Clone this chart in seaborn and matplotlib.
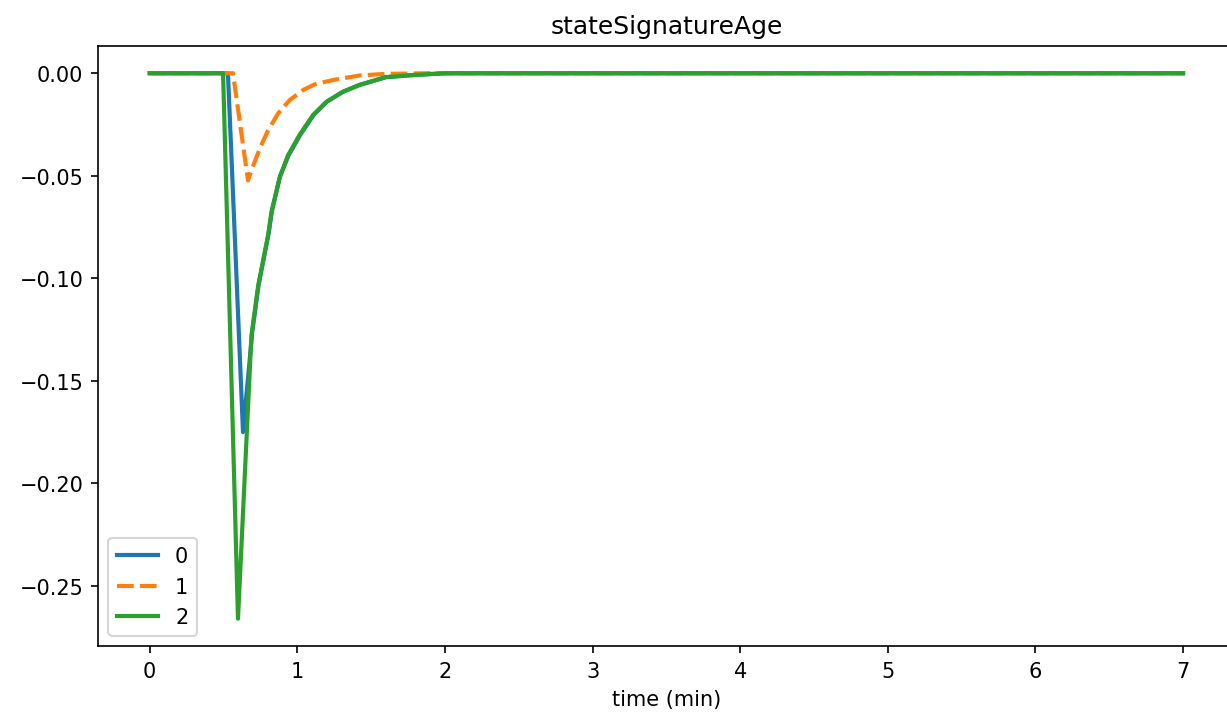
import pandas as pd
import matplotlib
matplotlib.use('Agg')
import matplotlib.pyplot as plt
import seaborn as sns

# series values (time in minutes)
t0 = [0.0, 0.53, 0.632, 0.695, 0.738, 0.806, 0.828, 0.884, 0.941, 1.02, 1.11, 1.20, 1.31, 1.42, 1.60, 1.78, 2.0, 7.0]
v0 = [0.0, 0.0, -0.175, -0.126, -0.103, -0.078, -0.067, -0.050, -0.040, -0.030, -0.0204, -0.0139, -0.009, -0.0057, -0.0019, -0.0009, 0.0, 0.0]

t1 = [0.0, 0.564, 0.666, 0.689, 0.745, 0.802, 0.870, 0.948, 1.039, 1.118, 1.242, 1.42, 1.60, 1.90, 7.0]
v1 = [0.0, 0.0, -0.0523, -0.0474, -0.0368, -0.0278, -0.0196, -0.0131, -0.0082, -0.0054, -0.0033, -0.0011, -0.0003, 0.0, 0.0]

t2 = [0.0, 0.497, 0.598, 0.689, 0.734, 0.802, 0.824, 0.880, 0.937, 1.016, 1.106, 1.197, 1.31, 1.423, 1.60, 1.78, 2.0, 7.0]
v2 = [0.0, 0.0, -0.266, -0.128, -0.104, -0.079, -0.068, -0.051, -0.040, -0.030, -0.0204, -0.0139, -0.009, -0.0057, -0.0019, -0.0009, 0.0, 0.0]

runs = ['0', '1', '2']

df = pd.concat([
    pd.DataFrame({'time': t0, 'value': v0, 'run': runs[0]}),
    pd.DataFrame({'time': t1, 'value': v1, 'run': runs[1]}),
    pd.DataFrame({'time': t2, 'value': v2, 'run': runs[2]}),
], ignore_index=True)

fig = plt.figure(figsize=(8.18, 4.7733), dpi=150)
ax = fig.add_axes([0.0799, 0.0964, 0.9264, 0.838])

sns.lineplot(data=df, x='time', y='value', hue='run', style='run',
             palette=['#1f77b4', '#ff7f0e', '#2ca02c'],
             dashes={'0': '', '1': (4, 1.5), '2': ''},
             linewidth=2, ax=ax)

ax.set_title('stateSignatureAge')
ax.set_xlabel('time (min)')
ax.set_ylabel('')
ax.legend(loc='lower left')

fig.savefig('out.png', dpi=150)
